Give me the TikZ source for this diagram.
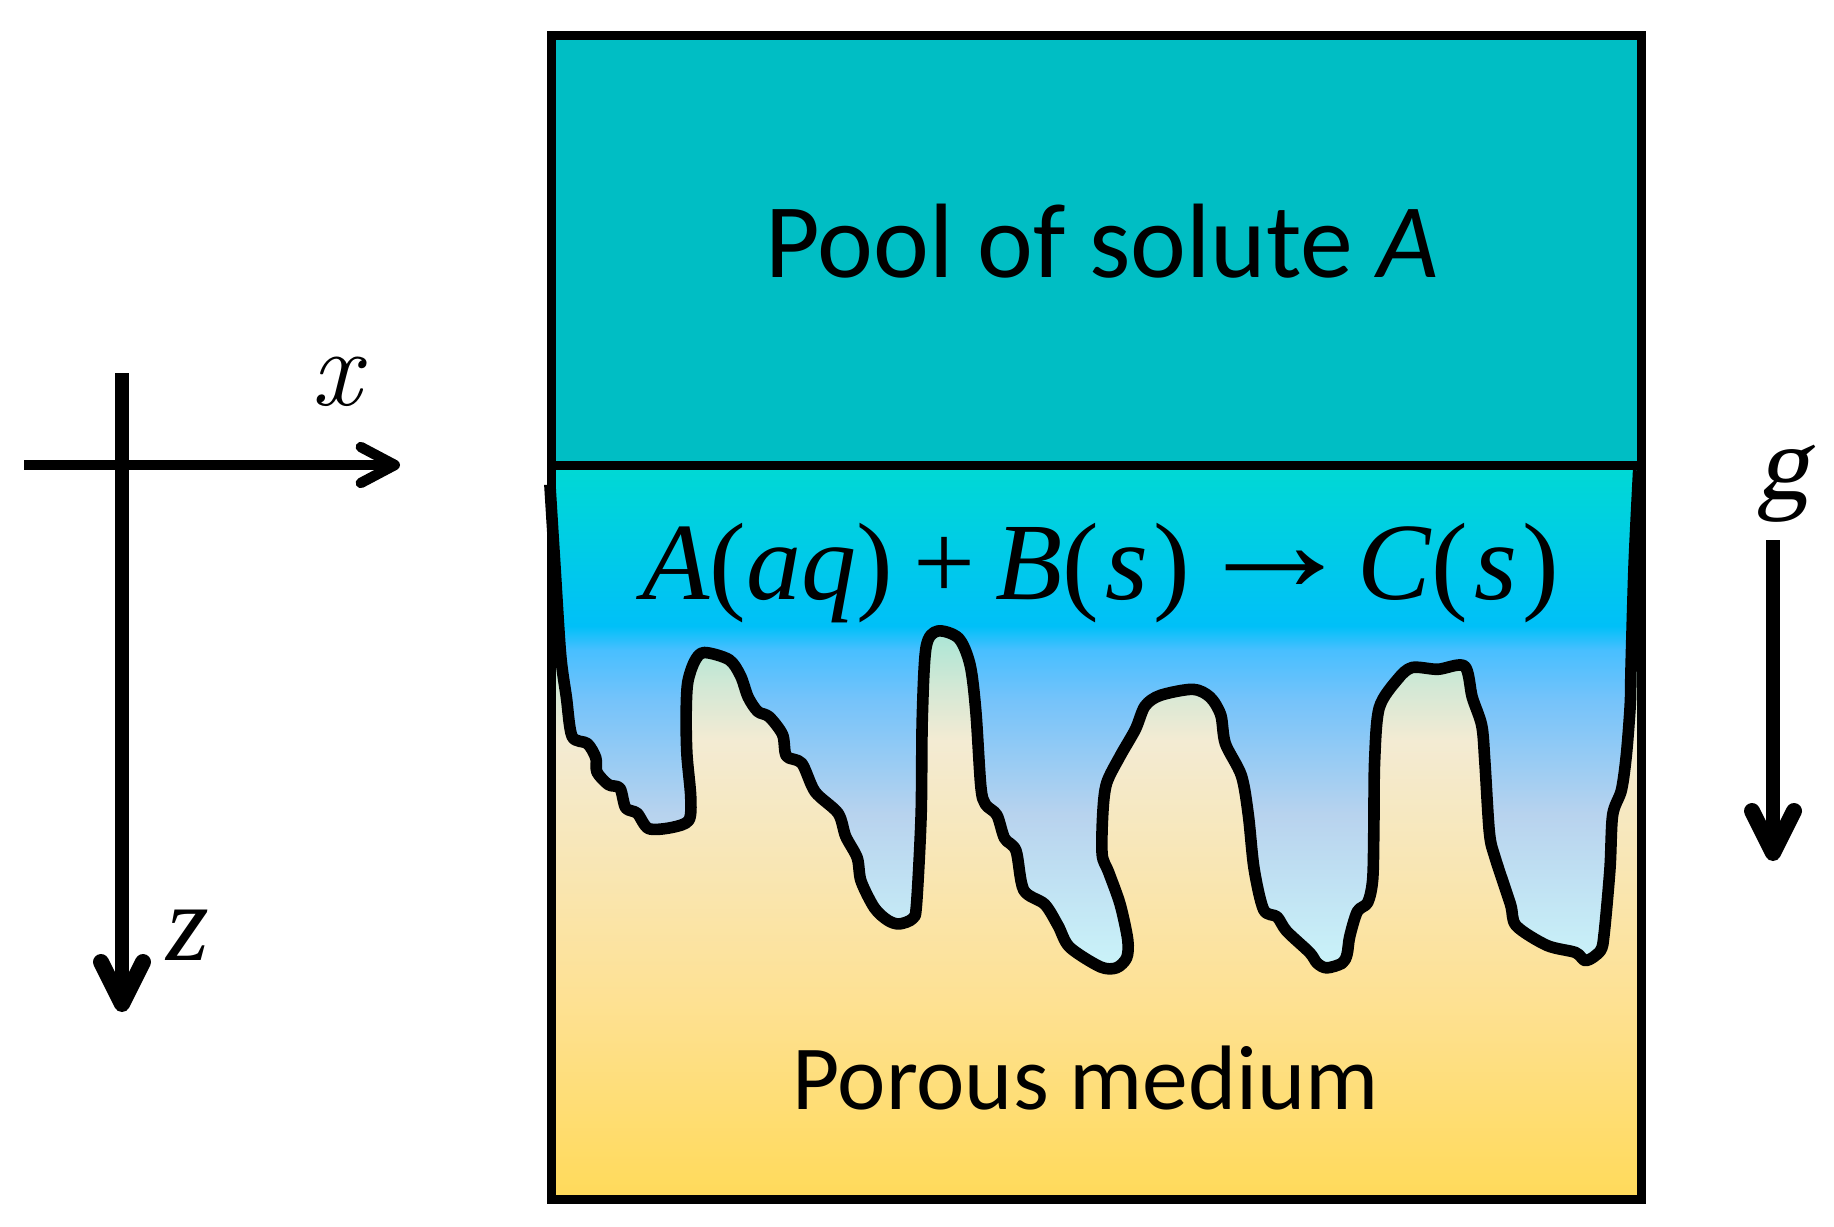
\documentclass[tikz,border=0pt]{standalone}
\usepackage{graphicx}
\usepackage{fontspec}
\usetikzlibrary{arrows.meta}
\newfontfamily\calib{Carlito}
\newfontfamily\tms{Liberation Serif}
\newfontfamily\tmslant[FakeSlant=0.2]{Liberation Serif}
\definecolor{poolc}{HTML}{00BEC4}
\definecolor{ma}{HTML}{60DCD8}
\definecolor{mb}{HTML}{A8E6D6}
\definecolor{mc}{HTML}{D5E8D5}
\definecolor{md}{HTML}{F3EBD3}
\definecolor{me}{HTML}{FEE193}
\definecolor{mf}{HTML}{FFDA5A}
\definecolor{la}{HTML}{00D8D5}
\definecolor{lb}{HTML}{00C0F8}
\definecolor{lc}{HTML}{48BFFF}
\definecolor{ld}{HTML}{75C3FA}
\definecolor{le}{HTML}{B8D3EE}
\definecolor{lf}{HTML}{CCF6FA}
\pgfdeclareverticalshading{mediumshade}{100bp}{color(0bp)=(mf); color(25bp)=(mf); color(38.65bp)=(me); color(56.48bp)=(md); color(59.91bp)=(mc); color(64.03bp)=(mb); color(75bp)=(ma); color(100bp)=(ma)}
\pgfdeclareverticalshading{liquidshade}{100bp}{color(0bp)=(lf); color(25bp)=(lf); color(41.18bp)=(le); color(52.45bp)=(ld); color(57.35bp)=(lc); color(59.7bp)=(lb); color(75bp)=(la); color(100bp)=(la)}
\newcommand{\ifcplot}{plot[smooth,tension=0.5] coordinates {
(52,125)(65,350)(80,600)(95,720)(110,830)(150,850)(172,890)(175,930)(205,965)(235,975)(250,1030)(280,1045)(310,1088)(370,1085)(415,1065)(420,1000)(410,880)(408,770)(412,680)(430,620)(455,595)(520,615)(550,660)(570,720)(595,760)(625,775)(660,825)(670,885)(710,905)(745,985)(805,1045)(825,1110)(855,1170)(865,1235)(900,1310)(935,1345)(965,1355)(1000,1340)(1010,1300)(1022,1050)(1025,780)(1035,580)(1065,535)(1120,555)(1150,630)(1165,760)(1178,970)(1190,1020)(1220,1050)(1240,1115)(1270,1150)(1290,1260)(1345,1300)(1380,1360)(1410,1420)(1490,1475)(1532,1478)(1559,1450)(1562,1400)(1542,1300)(1512,1210)(1495,1160)(1497,1040)(1507,960)(1542,885)(1582,810)(1607,745)(1647,715)(1732,698)(1777,720)(1805,770)(1817,850)(1859,940)(1877,1050)(1892,1200)(1917,1315)(1952,1335)(1977,1375)(2037,1435)(2057,1465)(2082,1478)(2122,1465)(2135,1440)(2142,1390)(2162,1320)(2189,1295)(2202,1230)(2205,1090)(2207,900)(2219,750)(2267,670)(2305,637)(2372,642)(2442,633)(2462,720)(2487,800)(2495,900)(2507,1100)(2522,1170)(2562,1300)(2577,1360)(2657,1415)(2732,1435)(2759,1458)(2797,1430)(2807,1380)(2822,1200)(2829,1050)(2852,980)(2865,880)(2875,740)(2877,640)(2885,350)(2897,85)}}
\tikzset{
  wall/.style={line width=4.5pt,draw=black},
  interface/.style={line width=5.8pt,draw=black,line join=round},
  thinaxis/.style={line width=4.6pt,draw=black,-{Straight Barb[length=17pt,width=18pt,line width=5.2pt,round]}},
  thickaxis/.style={line width=6.8pt,draw=black,-{Straight Barb[length=21pt,width=21pt,line width=8pt,round]}},
  label/.style={inner sep=0pt,anchor=base},
  zoomunits/.style={shift={(530,440)},x=0.19135pt,y=-0.17857pt}
}
\begin{document}
\begin{tikzpicture}[x=0.5pt,y=-0.5pt]
\useasboundingbox (0,0) rectangle (1834,1226);
% porous medium and solution
\fill[shading=mediumshade] (551,470) rectangle (1641,1199);
\begin{scope}[zoomunits]
  \begin{scope}
    \clip \ifcplot -- (2897,83) -- (52,83) -- cycle;
    \fill[shading=liquidshade] (0,84) rectangle (3000,1512);
  \end{scope}
\end{scope}
% pool
\fill[poolc] (551,35) rectangle (1641,465);
% interface
\begin{scope}[zoomunits]
  \draw[interface] \ifcplot;
\end{scope}
% box
\coordinate (bl) at (551,465);
\coordinate (br) at (1641,465);
\draw[wall,line join=miter] (551,35) rectangle (1641,1199);
\draw[wall] (bl) -- (br);
% texts
\node[label,anchor=base west] (pool) at (765,277) {\calib\fontsize{52.9}{60}\selectfont Pool of solute \textit{A}};
\node[label,anchor=base west] (porous) at (792,1109) {\calib\fontsize{45.8}{54}\selectfont Porous medium};
\node[label,anchor=base west] (rxn) at (642,599) {\tms\fontsize{55}{60}\selectfont \textit{A}(\textit{aq})\hspace{10pt}+\hspace{10pt}\textit{B}(\hspace{3pt}\textit{s}\hspace{3pt})\hspace{1pt}\raisebox{4pt}{\scalebox{1.5}[1.3]{→}}\hspace{0pt}\textit{C}(\hspace{3pt}\textit{s}\hspace{2.5pt})};
% axes
\coordinate (xa) at (24,465);
\coordinate (xb) at (400,465);
\coordinate (za) at (122,373);
\coordinate (zb) at (122,1012);
\coordinate (ga) at (1773,540);
\coordinate (gb) at (1773,861);
\draw[thinaxis] (xa) -- (xb);
\draw[thickaxis] (za) -- (zb);
\draw[thickaxis] (ga) -- (gb);
\node[label] (xl) at (336,405) {\rmfamily\fontsize{55}{60}\selectfont\itshape x};
\node[label] (zl) at (188,960) {\tms\fontsize{55}{60}\selectfont\textit{z}};
\node[label] (gl) at (1783,499) {\tmslant\fontsize{53}{60}\selectfont g};
\end{tikzpicture}
\end{document}
